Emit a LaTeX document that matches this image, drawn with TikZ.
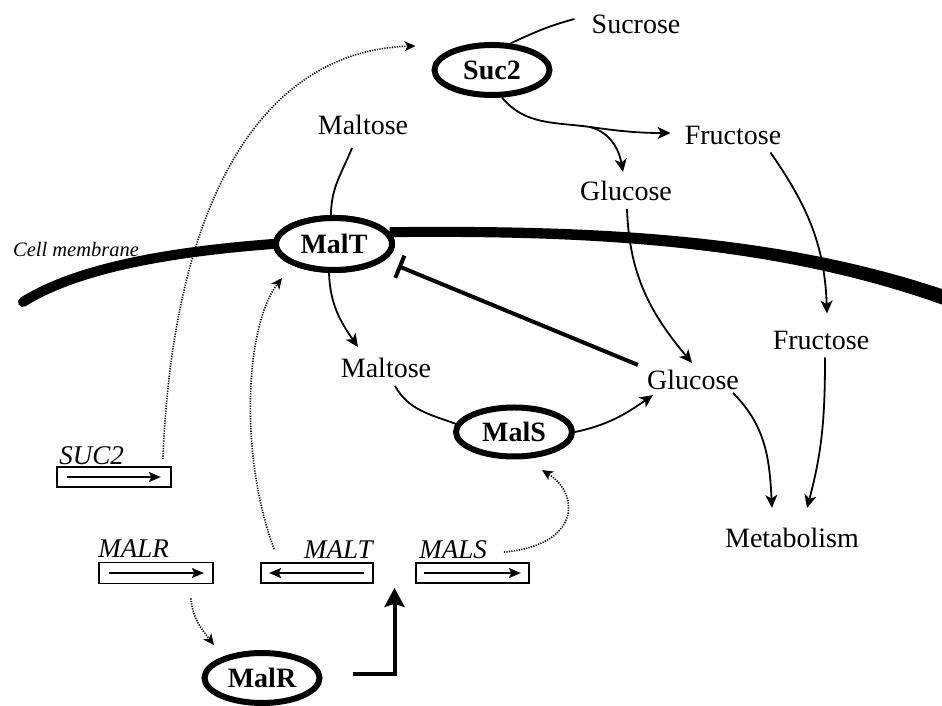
\documentclass[tikz,border=0pt]{standalone}
\usepackage{fontspec}
\setmainfont{Liberation Serif}
\usetikzlibrary{arrows.meta,shapes.geometric,calc}
\begin{document}
\begin{tikzpicture}[x=1pt,y=1pt,
  lbl/.style={inner sep=0pt, font=\fontsize{28}{30}\selectfont},
  enz/.style={ellipse, draw, line width=6pt, inner sep=0pt, fill=white, font=\fontsize{28}{30}\selectfont\bfseries},
  gene/.style={draw, line width=1.8pt, inner sep=0pt, minimum height=20pt},
  glabel/.style={inner sep=0pt, font=\fontsize{27}{29}\selectfont\itshape},
  conn/.style={line width=1.8pt, -{Stealth[length=13pt,width=12pt,inset=3.5pt]}},
  plainline/.style={line width=1.8pt},
  dots/.style={line width=1.6pt, dash pattern=on 1.2pt off 1.3pt, -{Stealth[length=11pt,width=10pt,inset=3pt]}},
  garrow/.style={line width=2pt, -{Stealth[length=12pt,width=10pt,inset=2.5pt]}},
]
\fill[white] (0,0) rectangle (942,706);
\useasboundingbox (0,0) rectangle (942,706);

% enzymes
\node[enz, minimum width=115pt, minimum height=50pt] (suc2) at (492,636) {Suc2};
\node[enz, minimum width=116pt, minimum height=52pt] (malt) at (334,462) {MalT};
\node[enz, minimum width=116pt, minimum height=49pt] (mals) at (514,274) {MalS};
\node[enz, minimum width=115pt, minimum height=50pt] (malr) at (262,28) {MalR};

% metabolites
\node[lbl] (sucrose) at (636,682) {Sucrose};
\node[lbl] (fructT) at (733,571) {Fructose};
\node[lbl] (glucT) at (626,515) {Glucose};
\node[lbl] (maltT) at (363,581) {Maltose};
\node[lbl] (maltL) at (386,338) {Maltose};
\node[lbl] (glucL) at (693,326) {Glucose};
\node[lbl] (fructL) at (821,366) {Fructose};
\node[lbl] (metab) at (792,168) {Metabolism};
\node[inner sep=0pt, font=\fontsize{20.5}{22}\selectfont\itshape] (cellm) at (76,456) {Cell membrane};

% membrane
\draw[line width=10pt, line cap=round] (23,404) .. controls (80,440) and (180,455) .. (malt.west);
\fill (malt.12) ++(0,5) .. controls (600,481) and (790,472) .. (962,410) -- (962,394) .. controls (790,460) and (600,471) .. ($(malt.12)+(0,-5)$) -- cycle;
\node[enz, minimum width=116pt, minimum height=52pt] at (malt) {MalT};

% genes
\node[gene, minimum width=114pt] (suc2g) at (114,229) {};
\node[gene, minimum width=114pt, minimum height=21pt] (malrg) at (156,133) {};
\node[gene, minimum width=112pt] (maltg) at (317,133) {};
\node[gene, minimum width=113pt] (malsg) at (472.5,133) {};
\node[glabel, anchor=base west] (suc2l) at ($(suc2g.north west)+(3,2)$) {SUC2};
\node[glabel, anchor=base west] (malrl) at ($(malrg.north west)+(0,4)$) {MALR};
\node[glabel, anchor=base east] (maltl) at ($(maltg.north east)+(-1,4)$) {MALT};
\node[glabel, anchor=base west] (malsl) at ($(malsg.north west)+(4,4)$) {MALS};
\draw[garrow] ([xshift=11pt]suc2g.west) -- ([xshift=-11pt]suc2g.east);
\draw[garrow] ([xshift=11pt]malrg.west) -- ([xshift=-10pt]malrg.east);
\draw[garrow] ([xshift=-10pt]maltg.east) -- ([xshift=9pt]maltg.west);
\draw[garrow] ([xshift=9pt]malsg.west) -- ([xshift=-9pt]malsg.east);

% sucrose cleavage
\coordinate (fork) at (590,579);
\draw[plainline] ($(sucrose.west)+(-17,5)$) to[out=195,in=25] (suc2.55);
\draw[plainline] (suc2.-70) to[out=-50,in=172] (fork);
\draw[conn] (fork) to[out=-8,in=180] ($(fructT.west)+(-14,2)$);
\draw[conn] (fork) to[out=-15,in=100] ($(glucT.north)+(-3,9)$);
\draw[conn] ($(fructT.south east)+(-11,-8)$) to[out=-55,in=92] ($(fructL.north)+(6,17)$);
\draw[conn] ($(glucT.south)+(1,-8)$) to[out=-88,in=130] ($(glucL.north)+(-1,7)$);

% maltose path
\draw[plainline] ($(maltT.south)+(-11,-13)$) to[out=-112,in=90] ($(malt.north)+(-3,0)$);
\draw[conn] ($(malt.south)+(-5,0)$) to[out=-88,in=125] ($(maltL.north)+(-28,11)$);
\draw[plainline] ($(maltL.south)+(9,-8)$) to[out=-60,in=160] (mals.172);
\draw[conn] (mals.east) to[out=12,in=215] ($(glucL.south west)+(6,-5)$);
\draw[conn] ($(glucL.south east)+(-6,-3)$) to[out=-45,in=93] ($(metab.north)+(-20,20)$);
\draw[conn] ($(fructL.south)+(4,-8)$) to[out=-90,in=75] ($(metab.north)+(15,20)$);

% inhibition
\draw[line width=4pt, -{Bar[width=24pt,line width=4pt]}] ($(glucL.north west)+(-9,5)$) -- ($(malt.center)+(64,-22)$);

% regulation
\draw[line width=4pt, -{Stealth[length=19pt,width=20pt,inset=3pt]}] ($(malr.east)+(30,4)$) -| ($(maltg.south east)!0.5!(malsg.south west)+(0,-4)$);

% expression (dotted)
\draw[dots] ($(suc2g.north east)+(-9,7)$) .. controls +(10,254) and +(-156,-5) .. ($(suc2.west)+(-16,24)$);
\draw[dots] ($(maltg.north west)+(14,13)$) .. controls +(-35,94) and +(-37,-48) .. ($(malt.center)+(-52,-34)$);
\draw[dots] ($(malrg.south east)+(-23,-14)$) to[out=-85,in=128] ($(malr.center)+(-48,33)$);
\draw[dots] ($(malsg.north east)+(-26,10)$) .. controls +(77,7) and +(38,-24) .. ($(mals.center)+(28,-38)$);
\end{tikzpicture}
\end{document}
